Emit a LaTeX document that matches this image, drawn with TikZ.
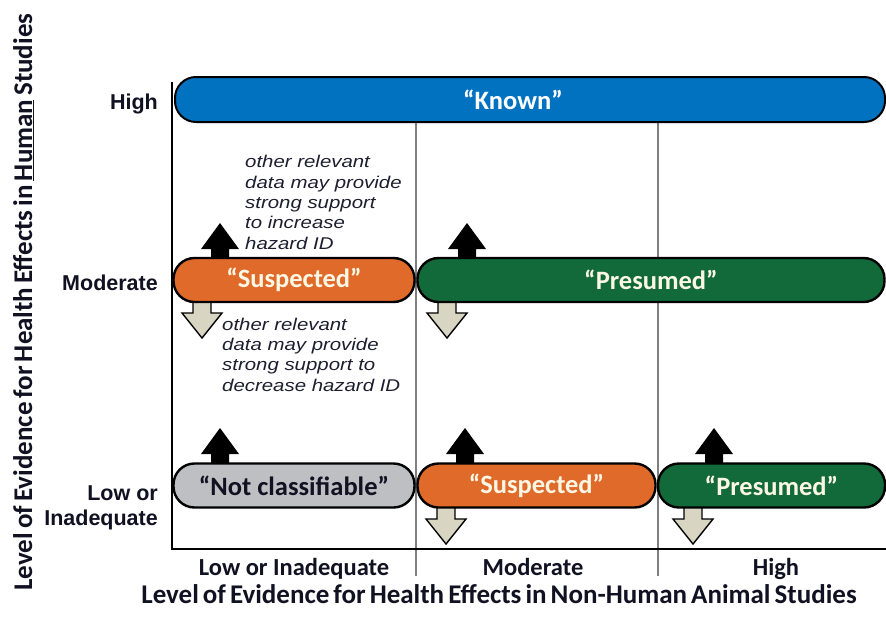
\documentclass[tikz,border=0pt]{standalone}
\usepackage{fontspec}
\setmainfont{Carlito}
\newfontfamily\arialfont{Liberation Sans}
\newfontfamily\annotfont[FakeStretch=1.2]{Liberation Sans}
\newcommand\tightspaces{\spaceskip=0.15em plus 0.05em\relax}
\definecolor{knownblue}{HTML}{0072C0}
\definecolor{suspor}{HTML}{DF6A2A}
\definecolor{presgreen}{HTML}{12693A}
\definecolor{ncgray}{HTML}{BDBFC2}
\definecolor{downfill}{HTML}{D9D5C3}
\definecolor{divgray}{HTML}{7F7F7F}
\definecolor{barlight}{HTML}{FCF6E4}
\definecolor{inktext}{HTML}{111122}
\definecolor{annottext}{HTML}{1E1E30}
\begin{document}
\begin{tikzpicture}[x=1pt,y=-1pt,
  bar/.style={draw=black, line width=2.4pt, rounded corners=21pt, inner sep=0pt,
    minimum height=44pt, font=\fontsize{26.5}{26.5}\selectfont\bfseries},
  rowlabel/.style={font=\arialfont\fontsize{21.5}{25}\selectfont\bfseries, text=inktext, align=right, inner sep=0pt},
  collabel/.style={font=\fontsize{24.5}{24.5}\selectfont\bfseries, text=inktext, inner sep=0pt},
  axistitle/.style={font=\fontsize{27}{27}\selectfont\bfseries\tightspaces, text=inktext, inner sep=0pt},
  annot/.style={font=\annotfont\itshape\fontsize{17}{20.3}\selectfont, text=annottext, align=left, inner sep=0pt},
  divider/.style={draw=divgray, line width=1.6pt},
  uparr/.pic={\fill[black] (-9,4) -- (-9,-9) -- (-19,-9) -- (0,-35) -- (19,-9) -- (9,-9) -- (9,4) -- cycle;},
  downarr/.pic={\filldraw[fill=downfill, draw=black, line width=1.4pt, line join=miter]
     (-9,-4) -- (-9,11) -- (-20,11) -- (0,36) -- (20,11) -- (9,11) -- (9,-4);}
]
\useasboundingbox (0,0) rectangle (886,616);

% dividers and axes
\draw[divider] (416,122) -- (416,576);
\draw[divider] (658,122) -- (658,576);
\draw[line width=2pt] (172,82) -- (172,549) -- (886,549);

% arrows (drawn below bars)
\pic at (220,258) {uparr};
\pic at (202,302) {downarr};
\pic at (467,258) {uparr};
\pic at (447,302) {downarr};
\pic at (220,463) {uparr};
\pic at (465,463) {uparr};
\pic at (446,508) {downarr};
\pic at (714,463) {uparr};
\pic at (693,508) {downarr};

% bars
\node[bar, line width=2pt, fill=knownblue, minimum width=710pt, minimum height=45pt] (known) at (530,99.5) {};
\node[text=white, font=\fontsize{26.5}{26.5}\selectfont\bfseries, inner sep=0pt] (knowntext) at (513,100) {“Known”};

\node[bar, fill=suspor, text=barlight, minimum width=241pt] (suspmod) at (294,280) {“Suspected”};
\node[bar, fill=presgreen, text=barlight, minimum width=467pt] (presmod) at (651,280) {“Presumed”};

\node[bar, fill=ncgray, text=inktext, minimum width=241pt] (notclass) at (294,485.5) {“Not classifiable”};
\node[bar, fill=suspor, text=barlight, minimum width=238pt] (susplow) at (536.5,485.5) {“Suspected”};
\node[bar, fill=presgreen, text=barlight, minimum width=227pt] (preslow) at (771.5,485.5) {“Presumed”};

% annotations (anchored at the baseline of the last line)
\node[annot, anchor=base west] (incnote) at (245,249)
  {other relevant\\data may provide\\strong support\\to increase\\hazard ID};
\node[annot, anchor=base west] (decnote) at (222,391)
  {other relevant\\data may provide\\strong support to\\decrease hazard ID};

% row labels
\node[rowlabel, anchor=base east] (rhigh) at (158,109) {High};
\node[rowlabel, anchor=base east] (rmod) at (158,290) {Moderate};
\node[rowlabel, anchor=base east] (rlow) at (158,525) {Low or\\Inadequate};

% column labels
\node[collabel, anchor=base] (clow) at (294,575) {Low or Inadequate};
\node[collabel, anchor=base] (cmod) at (533,575) {Moderate};
\node[collabel, anchor=base] (chigh) at (776,575) {High};

% axis titles
\node[axistitle, anchor=base] (xtitle) at (499,603) {Level of Evidence for Health Effects in Non-Human Animal Studies};
\node[axistitle, anchor=base, rotate=90] (ytitle) at (32,302) {Level of Evidence for Health Effects in \underline{Human} Studies};
\end{tikzpicture}
\end{document}
